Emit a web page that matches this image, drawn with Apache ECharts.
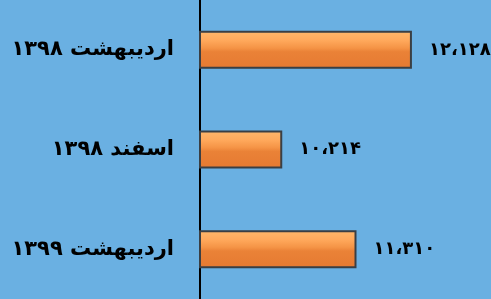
<!DOCTYPE html>
<html>
<head>
<meta charset="utf-8">
<script src="https://cdn.jsdelivr.net/npm/echarts@6/dist/echarts.min.js"></script>
<style>
    html, body { margin: 0; padding: 0; background: #6ab0e2; }
    #app { width: 491px; height: 299px; }
</style>
</head>
<body>
<div id="app"></div>
<script>
// 数据
let categories = ["اردیبهشت ۱۳۹۸", "اسفند ۱۳۹۸", "اردیبهشت ۱۳۹۹"];
let values = [12128, 10214, 11310];

// 转换为波斯数字
let toFa = (n) => {
    let digits = "۰۱۲۳۴۵۶۷۸۹";
    let s = String(n).replace(/\B(?=(\d{3})+(?!\d))/g, "،");
    return s.replace(/\d/g, d => digits[d]);
};

let myChart = echarts.init(document.querySelector("#app"));
myChart.setOption({
    backgroundColor: "#6ab0e2",
    grid: {
        left: 200,
        right: 20,
        top: 0,
        bottom: 0
    },
    xAxis: {
        type: "value",
        min: 9000,
        max: 13000,
        show: false,
        splitLine: { show: false }
    },
    yAxis: {
        type: "category",
        inverse: true,
        data: categories,
        axisLine: { lineStyle: { color: "#000", width: 2 } },
        axisTick: { show: false },
        axisLabel: {
            margin: 26,
            color: "#000",
            fontFamily: "DejaVu Sans",
            fontWeight: "bold",
            fontSize: 21
        }
    },
    series: [
        {
            type: "bar",
            data: values,
            barWidth: 38,
            itemStyle: {
                color: new echarts.graphic.LinearGradient(0, 0, 0, 1, [
                    { offset: 0, color: "#ffb86c" },
                    { offset: 0.25, color: "#ffa95c" },
                    { offset: 0.45, color: "#f59446" },
                    { offset: 0.55, color: "#ea8237" },
                    { offset: 1, color: "#e57a32" }
                ]),
                borderColor: "#3a3f44",
                borderWidth: 2
            },
            label: {
                show: true,
                position: "right",
                distance: 17,
                color: "#000",
                fontFamily: "DejaVu Sans",
                fontWeight: "bold",
                fontSize: 18,
                formatter: (p) => toFa(p.value)
            }
        }
    ]
});
</script>
</body>
</html>
